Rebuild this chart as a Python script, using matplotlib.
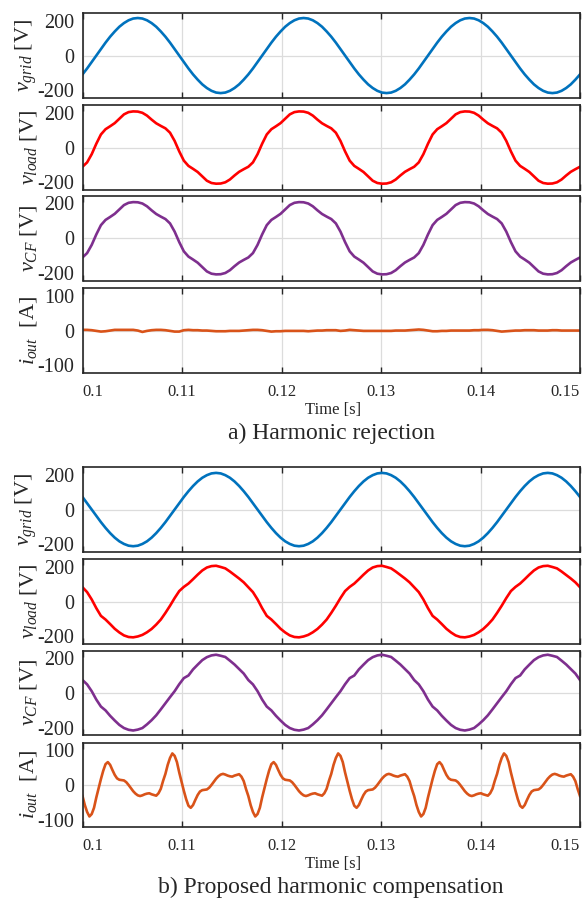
import numpy as np
import matplotlib
matplotlib.use('Agg')
import matplotlib.pyplot as plt

plt.rcParams['font.family'] = ['Liberation Serif', 'DejaVu Serif']
plt.rcParams['mathtext.fontset'] = 'custom'
plt.rcParams['mathtext.rm'] = 'Liberation Serif'
plt.rcParams['mathtext.it'] = 'Liberation Serif:italic'
plt.rcParams['axes.unicode_minus'] = False

# waveforms, 0.1 s .. 0.15 s (three 60 Hz cycles)
# a) harmonic rejection
v_grid_a = [-108, -74, -37, 0, 37, 74, 108, 138, 165, 186, 202, 212, 215, 212, 202, 186, 165, 138,
            108, 74, 37, 0, -37, -74, -108, -138, -165, -186, -202, -212, -215, -212, -202, -186, -165, -138,
            -108, -74, -37, 0, 37, 74, 108, 138, 165, 186, 202, 212, 215, 212, 202, 186, 165, 138,
            108, 74, 37, 0, -37, -74, -108, -138, -165, -186, -202, -212, -215, -212, -202, -186, -165, -138,
            -108, -74, -37, 0, 37, 74, 108, 138, 165, 186, 202, 212, 215, 212, 202, 186, 165, 138,
            108, 74, 37, 0, -37, -74, -108, -138, -165, -186, -202, -212, -215, -212, -202, -186, -165, -138,
            -108]
v_load_a = [-110, -85, -38, 22, 75, 105, 122, 140, 165, 190, 203, 207, 206, 199, 183, 160, 139, 124,
            110, 85, 38, -22, -75, -105, -122, -140, -165, -190, -203, -207, -206, -199, -183, -160, -139, -124,
            -110, -85, -38, 22, 75, 105, 122, 140, 165, 190, 203, 207, 206, 199, 183, 160, 139, 124,
            110, 85, 38, -22, -75, -105, -122, -140, -165, -190, -203, -207, -206, -199, -183, -160, -139, -124,
            -110, -85, -38, 22, 75, 105, 122, 140, 165, 190, 203, 207, 206, 199, 183, 160, 139, 124,
            110, 85, 38, -22, -75, -105, -122, -140, -165, -190, -203, -207, -206, -199, -183, -160, -139, -124,
            -110]
v_cf_a = [-110, -85, -38, 22, 75, 105, 122, 140, 165, 190, 203, 207, 206, 199, 183, 160, 139, 124,
          110, 85, 38, -22, -75, -105, -122, -140, -165, -190, -203, -207, -206, -199, -183, -160, -139, -124,
          -110, -85, -38, 22, 75, 105, 122, 140, 165, 190, 203, 207, 206, 199, 183, 160, 139, 124,
          110, 85, 38, -22, -75, -105, -122, -140, -165, -190, -203, -207, -206, -199, -183, -160, -139, -124,
          -110, -85, -38, 22, 75, 105, 122, 140, 165, 190, 203, 207, 206, 199, 183, 160, 139, 124,
          110, 85, 38, -22, -75, -105, -122, -140, -165, -190, -203, -207, -206, -199, -183, -160, -139, -124,
          -110]
i_out_a = [2, 2, 1, -1, -3, -2, 0, 2, 2, 2,
           2, 2, 0, -4, -1, 1, 2, 2, 1, -1,
           -3, -3, 1, 2, 1, 1, 0, 0, -1, -2,
           -2, -2, -1, -1, -1, 0, 1, 2, 2, 1,
           -1, -3, -2, -2, -1, -1, -1, -1, -1, -2,
           -1, 0, 0, 1, 1, 1, -1, 0, 2, 1,
           0, -1, -1, -1, -1, -1, -1, -1, 0, 0,
           0, 1, 2, 3, 2, 0, -2, -2, -1, -1,
           0, 0, 0, 0, 0, 1, 1, 2, 2, 1,
           -1, -3, -2, -1, 0, 0, 1, 1, 1, 0,
           0, 0, 1, 1, 0, 0, 0, 0, 0]

# b) proposed harmonic compensation
v_grid_b = [72, 36, 0, -36, -72, -105, -135, -161, -182, -197, -207, -210, -207, -197, -182, -161, -135, -105,
            -72, -36, 0, 36, 72, 105, 135, 161, 182, 197, 207, 210, 207, 197, 182, 161, 135, 105,
            72, 36, 0, -36, -72, -105, -135, -161, -182, -197, -207, -210, -207, -197, -182, -161, -135, -105,
            -72, -36, 0, 36, 72, 105, 135, 161, 182, 197, 207, 210, 207, 197, 182, 161, 135, 105,
            72, 36, 0, -36, -72, -105, -135, -161, -182, -197, -207, -210, -207, -197, -182, -161, -135, -105,
            -72, -36, 0, 36, 72, 105, 135, 161, 182, 197, 207, 210, 207, 197, 182, 161, 135, 105,
            72]
v_load_b = [82, 54, 12, -38, -82, -103, -129, -156, -177, -194, -203, -205, -200, -191, -176, -157, -132, -103,
            -65, -24, 20, 60, 84, 103, 128, 154, 178, 195, 203, 205, 198, 190, 172, 152, 132, 110,
            82, 54, 12, -38, -82, -103, -129, -156, -177, -194, -203, -205, -200, -191, -176, -157, -132, -103,
            -65, -24, 20, 60, 84, 103, 128, 154, 178, 195, 203, 205, 198, 190, 172, 152, 132, 110,
            82, 54, 12, -38, -82, -103, -129, -156, -177, -194, -203, -205, -200, -191, -176, -157, -132, -103,
            -65, -24, 20, 60, 84, 103, 128, 154, 178, 195, 203, 205, 198, 190, 172, 152, 132, 110,
            82]
v_cf_b = [74, 49, 10, -38, -78, -100, -131, -158, -183, -201, -211, -215, -210, -201, -180, -156, -128, -94,
          -59, -24, 10, 50, 85, 100, 135, 162, 188, 205, 215, 219, 213, 206, 185, 163, 137, 111,
          74, 49, 10, -38, -78, -100, -131, -158, -183, -201, -211, -215, -210, -201, -180, -156, -128, -94,
          -59, -24, 10, 50, 85, 100, 135, 162, 188, 205, 215, 219, 213, 206, 185, 163, 137, 111,
          74, 49, 10, -38, -78, -100, -131, -158, -183, -201, -211, -215, -210, -201, -180, -156, -128, -94,
          -59, -24, 10, 50, 85, 100, 135, 162, 188, 205, 215, 219, 213, 206, 185, 163, 137, 111,
          74]
i_out_b = [-32, -58, -78, -91, -84, -66, -36, -9, 17, 41, 60, 66, 58, 43, 29, 19, 15, 14,
           13, 8, 0, -9, -18, -25, -30, -32, -30, -27, -25, -24, -27, -29, -31, -24, -11, 12,
           32, 58, 78, 91, 84, 66, 36, 9, -17, -41, -60, -66, -58, -43, -29, -19, -15, -14,
           -13, -8, 0, 9, 18, 25, 30, 32, 30, 27, 25, 24, 27, 29, 31, 24, 11, -12,
           -32, -58, -78, -91, -84, -66, -36, -9, 17, 41, 60, 66, 58, 43, 29, 19, 15, 14,
           13, 8, 0, -9, -18, -25, -30, -32, -30, -27, -25, -24, -27, -29, -31, -24, -11, 12,
           32, 58, 78, 91, 84, 66, 36, 9, -17, -41, -60, -66, -58, -43, -29, -19, -15, -14,
           -13, -8, 0, 9, 18, 25, 30, 32, 30, 27, 25, 24, 27, 29, 31, 24, 11, -12,
           -32, -58, -78, -91, -84, -66, -36, -9, 17, 41, 60, 66, 58, 43, 29, 19, 15, 14,
           13, 8, 0, -9, -18, -25, -30, -32, -30, -27, -25, -24, -27, -29, -31, -24, -11, 12,
           32, 58, 78, 91, 84, 66, 36, 9, -17, -41, -60, -66, -58, -43, -29, -19, -15, -14,
           -13, -8, 0, 9, 18, 25, 30, 32, 30, 27, 25, 24, 27, 29, 31, 24, 11, -12,
           -32]

time_ticks = [0.1, 0.11, 0.12, 0.13, 0.14, 0.15]
time_labels = ['0.1', '0.11', '0.12', '0.13', '0.14', '0.15']
v_ticks = [-200, 0, 200]
i_ticks = [-100, 0, 100]

ylabels = [r'$v_{grid}$ [V]', r'$v_{load}$ [V]', r'$v_{CF}$ [V]', r'$i_{out}$  [A]']
colors = ['#0072BD', '#FF0000', '#7E2F8E', '#D95319']
captions = ['a) Harmonic rejection', 'b) Proposed harmonic compensation']

W, H = 584, 901
fig = plt.figure(figsize=(W / 100, H / 100), dpi=100)

x0, x1 = 82.5, 580
tops = [[13.3, 105.3, 196, 288.3], [467.3, 559.3, 650.7, 742.7]]
ph = 84.5
txt_y = [(410, 433), (863.5, 887.5)]

groups = [
    [v_grid_a, v_load_a, v_cf_a, i_out_a],
    [v_grid_b, v_load_b, v_cf_b, i_out_b],
]
dark = '#262626'

for g, series in enumerate(groups):
    for p, y in enumerate(series):
        top = tops[g][p]
        ax = fig.add_axes([x0 / W, 1 - (top + ph) / H, (x1 - x0) / W, ph / H])
        t = np.linspace(0.1, 0.15, len(y))
        ax.plot(t, y, color=colors[p], lw=1.9, solid_joinstyle='round')
        ax.set_xlim(0.1, 0.15)
        if p < 3:
            ax.set_ylim(-242, 242)
            ticks = v_ticks
        else:
            ax.set_ylim(-122, 122)
            ticks = i_ticks
        ax.set_yticks(ticks)
        ax.set_yticklabels([str(v) for v in ticks], fontsize=14.5, color=dark)
        ax.set_yticks([0], minor=True)
        ax.tick_params(axis='y', which='major', length=0, pad=6)
        ax.tick_params(axis='y', which='minor', direction='in', length=4, left=True, right=True,
                       width=1.0, color=dark)
        ax.axhline(0, color='#dcdcdc', lw=0.9, zorder=0)
        ax.set_xticks(time_ticks)
        ax.grid(True, axis='x', color='#dcdcdc', lw=0.9)
        ax.set_axisbelow(True)
        ax.tick_params(axis='x', direction='in', length=4, top=True, bottom=True, width=1.0,
                       color=dark, pad=8)
        if p == 3:
            labs = ax.set_xticklabels(time_labels, fontsize=12, color=dark)
            labs[0].set_ha('left')
            labs[-1].set_ha('right')
        else:
            ax.set_xticklabels([])
        for s in ax.spines.values():
            s.set_color(dark)
            s.set_linewidth(1.2)
        ax.set_ylabel(ylabels[p], fontsize=16, color=dark)
        ax.yaxis.set_label_coords(-0.088, 0.5)

    fig.text(333 / W, 1 - txt_y[g][0] / H, 'Time [s]', ha='center', va='center', fontsize=12, color=dark)
    fig.text(331 / W, 1 - txt_y[g][1] / H, captions[g], ha='center', va='center', fontsize=17, color=dark)

fig.savefig('out.png', dpi=100)
